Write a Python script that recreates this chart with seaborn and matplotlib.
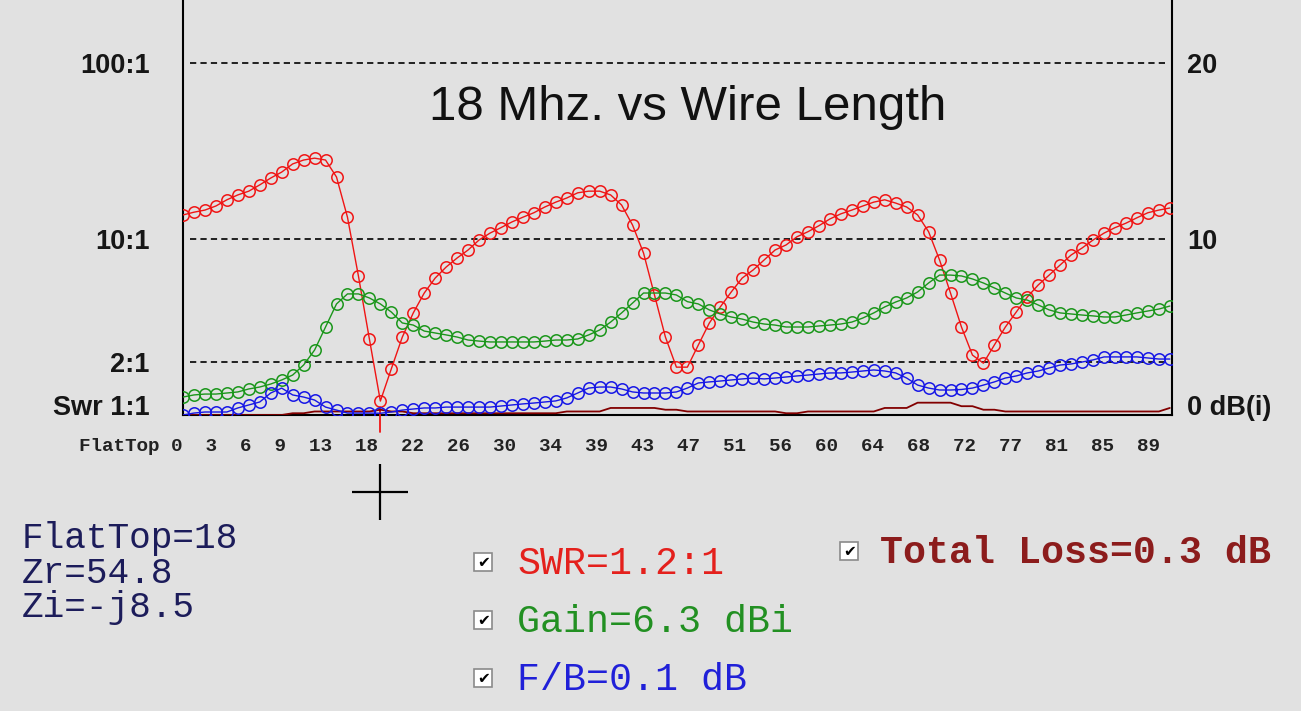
import matplotlib
matplotlib.use("Agg")
import matplotlib.pyplot as plt
import matplotlib.transforms as mtransforms
from matplotlib.patches import Rectangle
from matplotlib.lines import Line2D
from matplotlib.ticker import NullLocator
import seaborn as sns

# ---------------- data ----------------
flattop = list(range(91))

swr = [13.7, 14.2, 14.6, 15.4, 16.7, 17.8, 18.7, 20.3, 22.2, 24.0,
       26.7, 28.1, 28.8, 28.1, 22.5, 13.3, 6.16, 2.70, 1.2, 1.83,
       2.77, 3.80, 4.93, 6.00, 6.93, 7.80, 8.66, 9.87, 10.8, 11.6,
       12.5, 13.3, 14.1, 15.2, 16.2, 17.1, 18.3, 18.7, 18.7, 17.8,
       15.6, 12.0, 8.33, 4.81, 2.77, 1.87, 1.87, 2.50, 3.33, 4.11,
       5.00, 6.00, 6.67, 7.60, 8.66, 9.25, 10.3, 11.0, 11.9, 13.0,
       13.9, 14.6, 15.4, 16.2, 16.7, 16.0, 15.2, 13.7, 11.0, 7.60,
       4.93, 3.16, 2.19, 1.97, 2.50, 3.16, 3.85, 4.68, 5.48, 6.24,
       7.12, 8.11, 8.89, 9.87, 10.8, 11.6, 12.3, 13.2, 14.1, 14.6,
       15.0]

gain_dbi = [1.02, 1.14, 1.19, 1.19, 1.25, 1.31, 1.48, 1.59, 1.76, 1.99,
            2.27, 2.84, 3.69, 5.00, 6.31, 6.88, 6.88, 6.65, 6.31, 5.85,
            5.23, 5.11, 4.77, 4.66, 4.55, 4.43, 4.26, 4.20, 4.15, 4.15,
            4.15, 4.15, 4.15, 4.20, 4.26, 4.26, 4.32, 4.55, 4.83, 5.28,
            5.80, 6.36, 6.93, 6.93, 6.93, 6.82, 6.44, 6.31, 5.97, 5.74,
            5.57, 5.45, 5.28, 5.17, 5.11, 5.00, 5.00, 5.00, 5.06, 5.11,
            5.17, 5.28, 5.51, 5.80, 6.14, 6.42, 6.65, 6.99, 7.50, 7.95,
            7.95, 7.90, 7.73, 7.50, 7.22, 6.93, 6.65, 6.53, 6.25, 5.97,
            5.80, 5.74, 5.68, 5.63, 5.57, 5.57, 5.68, 5.80, 5.91, 6.02,
            6.19]

fb_db = [0.00, 0.11, 0.17, 0.17, 0.17, 0.40, 0.57, 0.74, 1.25, 1.53,
         1.14, 1.02, 0.85, 0.45, 0.28, 0.11, 0.11, 0.11, 0.10, 0.17,
         0.28, 0.34, 0.40, 0.40, 0.45, 0.45, 0.45, 0.45, 0.45, 0.51,
         0.57, 0.63, 0.68, 0.74, 0.80, 0.97, 1.25, 1.53, 1.59, 1.59,
         1.48, 1.31, 1.25, 1.25, 1.25, 1.31, 1.53, 1.82, 1.88, 1.93,
         1.99, 2.05, 2.10, 2.05, 2.10, 2.16, 2.22, 2.27, 2.33, 2.39,
         2.39, 2.44, 2.50, 2.56, 2.50, 2.39, 2.10, 1.70, 1.53, 1.42,
         1.42, 1.45, 1.53, 1.70, 1.88, 2.10, 2.22, 2.39, 2.50, 2.67,
         2.84, 2.90, 3.01, 3.13, 3.30, 3.30, 3.30, 3.30, 3.24, 3.18,
         3.18]

total_loss_db = [0.0, 0.0, 0.0, 0.0, 0.0, 0.0, 0.0, 0.0, 0.0, 0.0,
                 0.1, 0.1, 0.2, 0.2, 0.2, 0.2, 0.2, 0.2, 0.3, 0.2,
                 0.2, 0.1, 0.1, 0.1, 0.1, 0.1, 0.1, 0.1, 0.1, 0.1,
                 0.1, 0.1, 0.1, 0.1, 0.1, 0.2, 0.2, 0.2, 0.2, 0.4,
                 0.4, 0.4, 0.4, 0.4, 0.3, 0.3, 0.2, 0.2, 0.2, 0.2,
                 0.2, 0.2, 0.2, 0.2, 0.2, 0.1, 0.1, 0.2, 0.2, 0.2,
                 0.2, 0.2, 0.2, 0.2, 0.4, 0.4, 0.4, 0.7, 0.7, 0.7,
                 0.7, 0.5, 0.5, 0.3, 0.3, 0.2, 0.2, 0.2, 0.2, 0.2,
                 0.2, 0.2, 0.2, 0.2, 0.2, 0.2, 0.2, 0.2, 0.2, 0.2,
                 0.4]

x_axis_name = "FlatTop"
x_tick_labels = ["0", "3", "6", "9", "13", "18", "22", "26", "30", "34", "39",
                 "43", "47", "51", "56", "60", "64", "68", "72", "77", "81",
                 "85", "89"]
swr_ticks = [1, 2, 10, 100]
swr_tick_labels = ["Swr 1:1", "2:1", "10:1", "100:1"]
db_ticks = [0, 10, 20]
db_tick_labels = ["0 dB(i)", "10", "20"]
title = "18 Mhz. vs Wire Length"
cursor_index = 18
info_lines = ["FlatTop=18", "Zr=54.8", "Zi=-j8.5"]
legend_texts = ["SWR=1.2:1", "Gain=6.3 dBi", "F/B=0.1 dB", "Total Loss=0.3 dB"]

# ---------------- style ----------------
BG = "#e1e1e1"
RED = "#f01414"
GREEN = "#1a961a"
BLUE = "#1616e6"
LOSS = "#820000"
NAVY = "#1c1c5a"
legend_colors = ["#e4201c", "#229022", "#2020d8", "#8c1c1c"]

sns.set_theme(style="white")
plt.rcParams["font.family"] = ["Liberation Sans", "DejaVu Sans"]
plt.rcParams["lines.scale_dashes"] = False

W, H = 1301, 711
fig = plt.figure(figsize=(W / 100, H / 100), dpi=100, facecolor=BG)


def fx(px):
    return px / W


def fy(py):
    return 1 - py / H


ax = fig.add_axes([fx(183), fy(415), (1172 - 183) / W, 415 / H])
ax.set_facecolor(BG)
ax.set_yscale("log")
ax.set_ylim(1, 10 ** (415 / 176))
ax.set_xlim(0, 90.2)
ax2 = ax.twinx()
ax2.set_ylim(0, 415 / 17.6)
ax2.set_xlim(0, 90.2)

# grid lines
for v in [2, 10, 100]:
    ax.axhline(v, xmin=0.007, xmax=0.993, color="#111111", lw=1.3,
               dashes=(4.5, 3), zorder=1)

mk = dict(marker="o", markersize=8.2, markerfacecolor="none", markeredgewidth=1.1)
sns.lineplot(x=flattop, y=swr, ax=ax, color=RED, lw=1.0,
             markeredgecolor=RED, zorder=3, **mk)
sns.lineplot(x=flattop, y=gain_dbi, ax=ax2, color=GREEN, lw=1.0,
             markeredgecolor=GREEN, zorder=3, **mk)
sns.lineplot(x=flattop, y=fb_db, ax=ax2, color=BLUE, lw=1.0,
             markeredgecolor=BLUE, zorder=3, **mk)
sns.lineplot(x=flattop, y=total_loss_db, ax=ax2, color=LOSS, lw=1.3, zorder=2)

# axes frame
for a in (ax, ax2):
    for s in a.spines.values():
        s.set_visible(False)
for side in ("left", "right", "bottom"):
    ax.spines[side].set_visible(True)
    ax.spines[side].set_color("black")
    ax.spines[side].set_linewidth(1.5)

ax.set_xticks([])
ax2.set_xticks([])
ax.set_xlabel("")
ax.set_ylabel("")
ax2.set_ylabel("")

ax.set_yticks(swr_ticks)
ax.set_yticklabels(swr_tick_labels)
ax.yaxis.set_minor_locator(NullLocator())
ax.tick_params(axis="y", which="both", length=0, pad=24, labelsize=19.5,
               labelcolor="#161616", right=False, labelright=False)
ax2.set_yticks(db_ticks)
ax2.set_yticklabels(db_tick_labels)
ax2.tick_params(axis="y", length=0, pad=11, labelsize=19.5, labelcolor="#161616")
for lbl in ax.get_yticklabels() + ax2.get_yticklabels():
    lbl.set_fontweight("bold")
ax.get_yticklabels()[0].set_va("baseline")
ax2.get_yticklabels()[0].set_va("baseline")

# title
ax.text(0.5106, 0.742, title, transform=ax.transAxes, ha="center", va="center",
        fontsize=35.5, color="#111111", family="Liberation Sans")

# x-axis text row (monospace flow of labels)
x_row = x_axis_name + " " + "  ".join(x_tick_labels)
fig.text(fx(79.4), fy(451), x_row, ha="left", va="baseline", fontsize=13.9,
         family="Liberation Mono", fontweight="bold", color="#222222")

# cursor marks
trans = mtransforms.blended_transform_factory(ax.transData, ax.transAxes)
ax.add_line(Line2D([cursor_index, cursor_index], [-0.042, 0.02], transform=trans,
                   color=RED, lw=1.3, clip_on=False, zorder=4))
ax.plot([cursor_index], [-(492 - 415) / 415], transform=trans, marker="+",
        markersize=40, mew=1.6, color="black", clip_on=False)

# info text
for line, base in zip(info_lines, [548, 583, 617]):
    fig.text(fx(22), fy(base), line, ha="left", va="baseline", fontsize=26,
             family="Liberation Mono", color=NAVY)

# legend with check boxes
legend_pos = [(474, 553, 517, 574), (474, 611, 517, 632),
              (474, 669, 517, 690), (840, 542, 880, 563)]
for text, col, (bx, by, tx, tb), wgt in zip(legend_texts, legend_colors, legend_pos,
                                            ["normal", "normal", "normal", "bold"]):
    fig.patches.append(Rectangle((fx(bx), fy(by + 18)), 18 / W, 18 / H,
                                 transform=fig.transFigure, facecolor="white",
                                 edgecolor="#8a8a8a", lw=1.2))
    fig.text(fx(bx + 9.5), fy(by + 9.5), "\u2714", ha="center", va="center",
             fontsize=11, family="DejaVu Sans", color="black")
    fig.text(fx(tx), fy(tb), text, ha="left", va="baseline", fontsize=27.5,
             family="Liberation Mono", color=col, fontweight=wgt)

fig.savefig("out.png", dpi=100, facecolor=BG)
